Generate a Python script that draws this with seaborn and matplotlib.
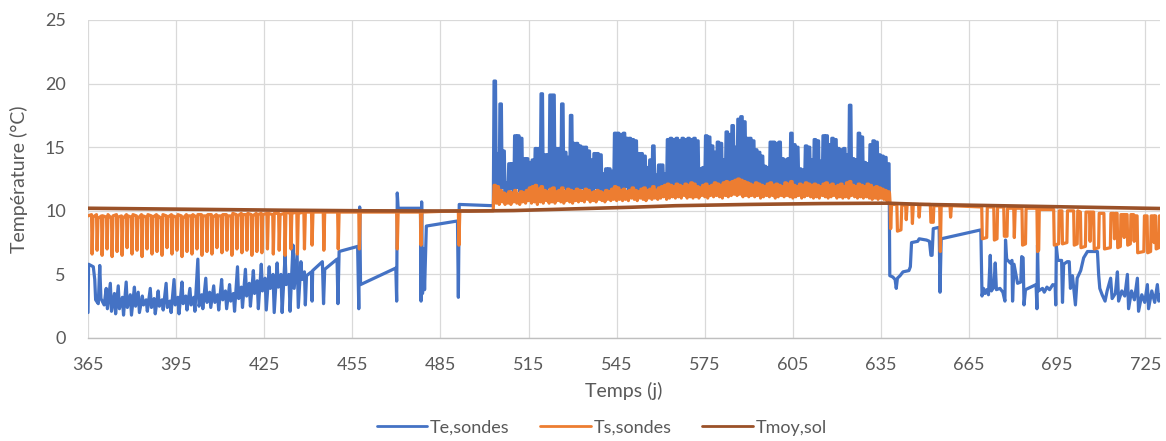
import numpy as np
import pandas as pd
import seaborn as sns
import matplotlib.pyplot as plt

# ---- data (day, temperature in degC) ----

# Te,sondes - winter part (365 -> 503)
te_hiver = [
    (365.0, 2.0), (365.2, 5.8), (366.8, 5.6), (367.3, 4.6), (367.6, 3.0), (368.5, 2.7),
    (369.0, 5.7), (369.4, 3.1), (370.5, 2.6), (371.2, 3.9), (371.6, 2.3), (372.6, 4.3),
    (373.0, 2.1), (374.0, 3.5), (374.4, 1.9), (375.3, 4.1), (375.7, 2.3), (376.7, 3.2),
    (377.1, 1.8), (378.0, 4.4), (378.4, 2.4), (379.4, 3.4), (379.8, 1.8), (380.8, 4.0),
    (381.2, 2.5), (382.1, 3.6), (382.5, 2.0), (383.5, 3.3), (383.9, 2.6), (384.8, 3.0),
    (385.2, 2.1), (386.2, 3.9), (386.6, 2.4), (387.5, 3.1), (387.9, 1.9), (388.9, 3.7),
    (389.3, 2.5), (390.2, 3.0), (390.6, 2.2), (391.6, 4.3), (392.0, 2.4), (392.9, 2.9),
    (393.3, 2.0), (394.3, 4.6), (394.7, 2.6), (395.6, 3.2), (396.0, 1.9), (397.0, 4.4),
    (397.4, 2.7), (398.3, 3.3), (398.7, 2.2), (399.7, 3.9), (400.1, 2.6), (401.0, 3.2),
    (401.4, 2.1), (402.4, 6.2), (402.8, 2.5), (403.7, 3.4), (404.1, 2.3), (405.1, 4.7),
    (405.5, 2.8), (406.4, 3.6), (406.8, 2.4), (407.8, 4.1), (408.2, 2.8), (409.1, 3.4),
    (409.5, 2.2), (410.5, 4.6), (410.9, 3.0), (411.8, 3.7), (412.2, 2.3), (413.2, 4.2),
    (413.6, 2.9), (414.5, 3.5), (414.9, 2.1), (415.9, 5.6), (416.3, 3.1), (417.2, 4.0),
    (417.6, 2.4), (418.6, 5.4), (419.0, 3.3), (419.9, 4.3), (420.3, 2.5), (421.3, 5.3),
    (421.7, 3.5), (422.6, 4.5), (423.0, 2.3), (424.0, 5.8), (424.4, 3.7), (425.3, 4.7),
    (425.7, 2.2), (426.7, 5.6), (427.1, 3.9), (428.0, 5.0), (428.4, 2.0), (429.4, 5.9),
    (429.8, 4.0), (430.7, 5.0), (431.1, 2.0), (432.1, 6.5), (432.5, 4.2), (433.4, 5.0),
    (433.8, 2.1), (434.8, 7.3), (435.2, 3.9), (436.2, 6.6), (436.6, 2.4), (437.5, 6.0),
    (437.9, 4.6), (438.7, 5.2), (439.0, 2.6), (439.4, 4.9), (441.1, 5.2), (441.3, 2.9),
    (441.5, 5.3), (444.8, 6.0), (445.2, 2.7), (445.6, 5.4), (449.8, 6.2), (450.1, 2.7),
    (450.5, 6.8), (456.8, 7.2), (457.2, 2.3), (457.5, 10.3), (457.8, 4.2), (469.8, 5.5),
    (470.1, 2.9), (470.3, 11.4), (470.6, 10.2), (478.2, 10.2), (478.4, 2.9), (478.6, 10.7),
    (478.9, 3.5), (479.3, 7.0), (479.6, 3.8), (480.2, 8.8), (490.8, 9.2), (491.1, 3.2),
    (491.4, 10.5), (503.0, 10.4),
]

# Te,sondes - summer part, daily min / max (days 503 -> 637)
ete_debut = 503
te_ete_max = [
    20.2, 14.5, 18.4, 14.7, 12.2, 13.7, 13.7, 15.9, 15.9, 15.7,
    14.1, 14.1, 13.8, 14.0, 14.9, 14.9, 19.2, 14.4, 14.4, 19.1,
    19.1, 14.9, 14.9, 18.4, 14.6, 14.2, 17.5, 15.3, 15.3, 15.1,
    15.0, 15.0, 14.7, 14.0, 14.5, 14.5, 14.4, 12.9, 13.3, 13.3,
    13.1, 16.1, 16.1, 16.0, 16.1, 15.7, 15.7, 15.6, 15.5, 14.5,
    14.5, 14.3, 13.4, 14.0, 15.1, 12.8, 13.6, 13.6, 12.9, 15.6,
    15.7, 15.6, 15.7, 15.5, 15.7, 15.6, 15.7, 15.6, 15.7, 15.5,
    13.3, 13.4, 15.9, 15.8, 15.1, 14.6, 15.4, 15.3, 14.0, 16.2,
    16.0, 16.7, 15.0, 17.2, 17.4, 17.0, 15.7, 15.7, 15.5, 14.8,
    14.6, 14.3, 13.5, 13.4, 15.4, 15.4, 15.3, 15.4, 14.1, 14.0,
    14.1, 16.1, 15.2, 15.0, 13.3, 13.2, 15.1, 15.0, 14.0, 15.6,
    15.5, 13.9, 15.9, 15.9, 15.2, 15.7, 15.6, 14.9, 14.8, 14.9,
    14.4, 18.3, 14.1, 14.0, 16.1, 15.8, 13.8, 13.7, 15.2, 15.5,
    15.4, 14.4, 14.3, 14.2, 13.7,
]
te_ete_min = [
    10.4, 11.6, 11.3, 11.8, 11.1, 11.5, 11.7, 11.4, 11.8, 11.5,
    11.6, 11.3, 11.7, 11.5, 11.8, 11.4, 11.6, 11.7, 11.3, 11.8,
    11.5, 11.7, 11.4, 11.6, 11.8, 11.5, 11.3, 11.7, 11.6, 11.4,
    11.8, 11.5, 11.7, 11.4, 11.6, 11.8, 11.5, 11.3, 11.7, 11.6,
    11.5, 11.8, 11.6, 11.4, 11.7, 11.9, 11.6, 11.5, 11.8, 11.6,
    11.4, 11.7, 11.6, 11.8, 11.5, 11.7, 11.9, 11.6, 11.8, 11.7,
    11.9, 11.7, 11.8, 12.0, 11.7, 11.9, 11.8, 12.0, 11.7, 11.9,
    11.8, 12.0, 11.9, 11.7, 12.0, 11.8, 12.1, 11.9, 11.8, 12.0,
    12.1, 11.9, 12.2, 12.0, 12.1, 11.9, 12.0, 11.8, 12.1, 11.9,
    12.0, 11.8, 12.1, 11.9, 12.0, 12.1, 11.8, 12.0, 11.9, 12.1,
    11.8, 12.0, 11.9, 11.7, 12.0, 11.8, 12.1, 11.9, 11.8, 12.0,
    11.9, 11.7, 12.0, 11.8, 11.9, 12.1, 11.8, 12.0, 11.9, 11.7,
    12.0, 11.8, 11.9, 11.7, 12.0, 11.8, 11.9, 11.7, 12.0, 11.8,
    11.9, 11.7, 11.8, 11.6, 11.5,
]

# Te,sondes - autumn part (638 -> 730)
te_automne = [
    (638.0, 4.9), (639.0, 4.8), (639.8, 4.6), (640.2, 3.9), (640.6, 4.7), (641.5, 4.9),
    (642.5, 5.2), (644.5, 5.3), (645.0, 5.6), (645.4, 7.5), (647.5, 7.6), (648.0, 7.8),
    (650.5, 7.7), (651.5, 7.6), (652.0, 6.5), (652.4, 6.5), (652.8, 8.6), (654.8, 8.7),
    (655.1, 3.6), (655.5, 7.8), (669.0, 8.5), (669.4, 3.3), (669.9, 3.9), (670.4, 3.5),
    (671.0, 3.8), (671.6, 3.4), (672.2, 6.5), (672.6, 3.7), (673.4, 4.0), (673.9, 5.9),
    (674.3, 3.8), (675.5, 3.9), (676.5, 3.6), (677.2, 2.9), (677.4, 7.7), (677.8, 6.2),
    (679.0, 5.9), (679.6, 6.1), (679.8, 2.9), (680.3, 5.8), (681.5, 4.3), (682.6, 4.4),
    (682.9, 6.4), (683.4, 6.3), (683.7, 2.6), (684.2, 3.8), (686.0, 4.0), (687.8, 4.2),
    (688.1, 2.3), (688.3, 7.3), (688.6, 3.7), (690.0, 3.9), (690.6, 3.6), (691.5, 4.0),
    (692.4, 3.8), (693.5, 4.2), (694.3, 4.1), (694.5, 2.6), (694.7, 7.2), (695.2, 6.1),
    (696.5, 6.1), (696.8, 2.8), (697.2, 5.8), (698.4, 6.0), (699.1, 6.0), (699.5, 3.9),
    (700.2, 4.9), (701.2, 2.6), (701.8, 4.7), (703.0, 5.3), (704.0, 6.3), (705.3, 6.8),
    (708.7, 6.8), (709.1, 5.0), (709.5, 3.9), (710.3, 3.4), (711.3, 2.9), (712.0, 3.7),
    (713.2, 4.7), (713.7, 3.1), (714.8, 3.5), (715.5, 5.2), (715.9, 2.9), (717.0, 3.7),
    (718.0, 3.3), (718.9, 5.0), (719.3, 2.3), (720.3, 3.7), (721.3, 3.0), (722.3, 4.7),
    (722.7, 2.1), (723.8, 3.4), (724.8, 2.8), (725.7, 4.2), (726.1, 2.3), (727.2, 3.7),
    (728.2, 2.8), (729.1, 4.2), (729.6, 2.9), (730.0, 3.4),
]

# Ts,sondes - winter part
ts_hiver = [
    (365.0, 9.6), (366.2, 9.7), (366.4, 6.6), (366.7, 9.5), (367.9, 9.7), (368.1, 6.9),
    (368.4, 9.4), (369.6, 9.6), (369.8, 6.5), (370.1, 9.6), (371.3, 9.5), (371.5, 7.0),
    (371.8, 9.7), (373.0, 9.4), (373.2, 6.4), (373.5, 9.6), (374.7, 9.7), (374.9, 6.8),
    (375.2, 9.5), (376.4, 9.6), (376.6, 6.5), (376.9, 9.4), (378.1, 9.7), (378.3, 7.1),
    (378.6, 9.6), (379.8, 9.5), (380.0, 6.6), (380.3, 9.7), (381.5, 9.6), (381.7, 6.9),
    (382.0, 9.4), (383.2, 9.7), (383.4, 6.4), (383.7, 9.6), (384.9, 9.5), (385.1, 7.0),
    (385.4, 9.7), (386.6, 9.6), (386.8, 6.6), (387.1, 9.5), (388.3, 9.7), (388.5, 6.8),
    (388.8, 9.6), (390.0, 9.4), (390.2, 6.5), (390.5, 9.7), (391.7, 9.6), (391.9, 7.1),
    (392.2, 9.5), (393.4, 9.7), (393.6, 6.6), (393.9, 9.6), (395.1, 9.5), (395.3, 6.9),
    (395.6, 9.7), (396.8, 9.6), (397.0, 6.4), (397.3, 9.4), (398.5, 9.7), (398.7, 6.8),
    (399.0, 9.6), (400.2, 9.6), (400.4, 6.6), (400.7, 9.7), (401.9, 9.5), (402.1, 7.0),
    (402.4, 9.7), (403.6, 9.7), (403.8, 6.5), (404.1, 9.6), (405.3, 9.6), (405.5, 6.8),
    (405.8, 9.7), (407.0, 9.7), (407.2, 6.6), (407.5, 9.5), (408.7, 9.7), (408.9, 7.1),
    (409.2, 9.6), (410.4, 9.6), (410.6, 6.7), (410.9, 9.7), (412.1, 9.7), (412.3, 6.9),
    (412.6, 9.6), (413.8, 9.6), (414.0, 6.5), (414.3, 9.8), (415.5, 9.7), (415.7, 7.0),
    (416.0, 9.6), (417.2, 9.8), (417.4, 6.7), (417.7, 9.7), (418.9, 9.7), (419.1, 6.9),
    (419.4, 9.8), (420.6, 9.7), (420.8, 6.5), (421.1, 9.6), (422.3, 9.8), (422.5, 6.8),
    (422.8, 9.7), (424.0, 9.8), (424.2, 6.7), (424.5, 9.7), (425.9, 9.8), (426.1, 7.0),
    (426.4, 9.8), (427.9, 9.7), (428.1, 6.6), (428.4, 9.8), (429.9, 9.8), (430.1, 6.9),
    (430.4, 9.7), (431.9, 9.8), (432.1, 6.5), (432.4, 9.9), (433.9, 9.8), (434.1, 7.0),
    (434.4, 9.8), (436.1, 9.9), (436.3, 6.6), (436.6, 9.8), (438.5, 9.9), (438.7, 7.0),
    (439.0, 9.9), (441.1, 9.9), (441.3, 7.3), (441.6, 9.9), (445.1, 9.9), (445.3, 6.9),
    (445.6, 9.9), (450.0, 9.9), (450.2, 7.0), (450.5, 9.9), (457.2, 9.9), (457.4, 7.0),
    (457.7, 9.9), (470.1, 9.9), (470.3, 7.0), (470.6, 9.9), (478.2, 9.9), (478.4, 7.3),
    (478.7, 9.9), (491.1, 10.0), (491.3, 7.3), (491.6, 10.0), (503.0, 10.0),
]

# Ts,sondes - summer part, daily min / max (days 503 -> 637)
ts_ete_max = [
    12.0, 11.9, 11.6, 11.4, 11.3, 11.5, 11.4, 11.6, 11.3, 11.5,
    11.4, 11.6, 11.8, 11.9, 12.0, 11.7, 11.9, 11.6, 11.5, 11.7,
    11.8, 11.5, 11.6, 11.8, 11.5, 11.7, 11.6, 11.5, 11.7, 11.6,
    11.5, 11.7, 11.6, 11.4, 11.5, 11.6, 11.5, 11.4, 11.6, 11.5,
    11.7, 11.9, 11.8, 11.6, 11.7, 11.5, 11.6, 11.8, 11.6, 11.5,
    11.7, 11.8, 11.6, 11.7, 11.9, 11.6, 11.8, 11.9, 12.0, 12.1,
    12.0, 11.9, 12.1, 12.0, 11.9, 12.1, 12.0, 12.2, 12.1, 11.9,
    11.8, 12.0, 12.1, 11.9, 12.0, 12.2, 12.1, 12.0, 12.2, 12.3,
    12.2, 12.3, 12.4, 12.5, 12.4, 12.3, 12.2, 12.1, 12.0, 12.2,
    12.1, 12.0, 11.9, 12.1, 12.2, 12.0, 12.1, 12.0, 11.9, 12.2,
    12.1, 12.3, 12.0, 11.9, 12.1, 12.0, 12.2, 12.1, 12.0, 12.1,
    12.0, 11.9, 12.1, 12.2, 12.0, 12.1, 11.9, 12.0, 12.1, 11.9,
    12.2, 12.3, 12.0, 11.9, 12.1, 12.0, 11.9, 12.1, 12.0, 11.8,
    11.9, 11.8, 11.7, 11.6, 11.5,
]
ts_ete_min = [
    10.2, 10.6, 10.5, 10.7, 10.5, 10.6, 10.5, 10.7, 10.6, 10.5,
    10.7, 10.6, 10.8, 10.6, 10.7, 10.5, 10.7, 10.6, 10.8, 10.6,
    10.7, 10.6, 10.8, 10.7, 10.6, 10.8, 10.7, 10.6, 10.8, 10.7,
    10.8, 10.7, 10.9, 10.7, 10.8, 10.7, 10.9, 10.8, 10.7, 10.9,
    10.8, 10.9, 10.8, 10.9, 10.8, 10.9, 10.8, 11.0, 10.9, 10.8,
    11.0, 10.9, 10.8, 11.0, 10.9, 11.0, 10.9, 11.0, 11.1, 10.9,
    11.0, 11.1, 11.0, 11.1, 11.0, 11.2, 11.0, 11.1, 11.0, 11.1,
    11.0, 11.2, 11.1, 11.0, 11.2, 11.1, 11.2, 11.1, 11.0, 11.2,
    11.1, 11.2, 11.3, 11.2, 11.3, 11.1, 11.2, 11.1, 11.2, 11.1,
    11.2, 11.0, 11.1, 11.2, 11.1, 11.2, 11.0, 11.1, 11.2, 11.1,
    11.2, 11.1, 11.0, 11.1, 11.2, 11.0, 11.1, 11.2, 11.1, 11.0,
    11.1, 11.0, 11.2, 11.1, 11.0, 11.1, 11.2, 11.0, 11.1, 11.0,
    11.1, 11.0, 11.2, 11.1, 11.0, 11.1, 11.0, 11.1, 11.0, 10.9,
    11.0, 10.9, 11.0, 10.9, 10.8,
]

# Ts,sondes - autumn part
ts_automne = [
    (637.9, 11.4), (638.1, 10.6), (638.3, 8.6), (638.6, 10.5), (640.4, 10.5), (640.6, 8.4),
    (641.8, 8.5), (642.1, 10.5), (643.4, 10.4), (643.6, 9.3), (643.9, 10.5), (645.5, 10.5),
    (645.7, 9.0), (646.0, 10.5), (647.8, 10.5), (648.0, 9.5), (648.3, 10.5), (651.8, 10.5),
    (652.0, 9.1), (652.8, 9.1), (653.0, 10.4), (655.0, 10.4), (655.2, 6.8), (655.5, 10.4),
    (658.5, 10.4), (658.7, 9.5), (659.0, 10.4), (669.3, 10.3), (669.5, 7.8), (671.0, 7.9),
    (671.2, 10.3), (673.4, 10.3), (673.6, 7.7), (674.5, 7.8), (674.7, 10.3), (676.8, 10.3),
    (677.0, 8.0), (677.9, 8.0), (678.1, 10.2), (680.2, 10.2), (680.4, 7.9), (680.7, 10.2),
    (683.0, 10.2), (683.2, 7.3), (684.2, 7.4), (684.4, 10.2), (688.1, 10.2), (688.3, 6.8),
    (688.7, 6.9), (688.9, 10.1), (693.8, 10.1), (694.0, 7.3), (695.5, 7.4), (695.7, 10.0),
    (696.6, 10.0), (696.8, 7.4), (698.3, 7.5), (698.5, 10.0), (700.6, 10.0), (700.8, 7.3),
    (701.8, 7.4), (702.0, 10.0), (702.9, 9.9), (703.1, 7.1), (704.6, 7.2), (704.8, 9.9),
    (706.0, 9.9), (706.2, 7.6), (706.5, 9.9), (707.4, 9.9), (707.6, 7.0), (709.1, 7.1),
    (709.3, 9.8), (710.9, 9.8), (711.1, 7.0), (713.1, 7.1), (713.3, 9.8), (714.3, 9.8),
    (714.5, 7.8), (714.8, 9.8), (715.4, 9.8), (715.6, 7.1), (716.5, 7.2), (716.7, 9.7),
    (717.6, 9.7), (717.8, 7.9), (718.1, 9.7), (718.8, 9.7), (719.0, 7.3), (719.9, 7.4),
    (720.1, 9.7), (721.0, 9.7), (721.2, 7.6), (721.5, 9.6), (722.2, 9.6), (722.4, 6.7),
    (724.5, 6.8), (724.7, 9.6), (725.6, 9.6), (725.8, 6.7), (726.8, 6.8), (727.0, 9.6),
    (727.8, 9.6), (728.0, 7.5), (728.3, 9.6), (728.5, 9.6), (728.7, 7.0), (729.6, 7.1),
    (729.8, 9.6), (730.0, 9.6),
]

# Tmoy,sol
tmoy_sol = [
    (365, 10.2), (400, 10.12), (430, 10.05), (460, 10.0), (495, 9.98), (510, 10.02),
    (530, 10.15), (550, 10.28), (565, 10.4), (590, 10.5), (615, 10.57), (637, 10.6),
    (650, 10.5), (680, 10.38), (705, 10.28), (730, 10.18),
]

series = ['Te,sondes', 'Ts,sondes', 'Tmoy,sol']
couleurs = ['#4472C4', '#ED7D31', '#9A5128']
epaisseurs = [2.3, 2.3, 2.6]


def ete(debut, vmin, vmax):
    # each day drawn as min -> max plateau -> next day's min
    pts = []
    for i, (lo, hi) in enumerate(zip(vmin, vmax)):
        j = debut + i
        pts += [(j, lo), (j + 0.25, hi), (j + 0.75, hi)]
    return pts


te = te_hiver + ete(ete_debut, te_ete_min, te_ete_max) + te_automne
ts = ts_hiver + ete(ete_debut, ts_ete_min, ts_ete_max) + ts_automne

frames = []
for nom, pts in zip(series, [te, ts, tmoy_sol]):
    x, y = zip(*pts)
    frames.append(pd.DataFrame({'Temps': x, 'T': y, 'serie': nom}))
df = pd.concat(frames, ignore_index=True)

sns.set_style('white')
plt.rcParams['font.family'] = ['Lato', 'DejaVu Sans']
plt.rcParams['path.simplify'] = False

fig = plt.figure(figsize=(11.66, 4.41), dpi=100)
ax = fig.add_axes([88 / 1166, 1 - 338 / 441, (1160 - 88) / 1166, (338 - 20) / 441])

sns.lineplot(
    data=df, x='Temps', y='T', hue='serie', hue_order=series,
    palette=couleurs, sort=False, estimator=None, legend=False, ax=ax
)
for line, lw in zip(ax.lines, epaisseurs):
    line.set_linewidth(lw)

gris = '#595959'
ax.set_xlim(365, 730)
ax.set_ylim(0, 25)
ax.set_xticks(range(365, 726, 30))
ax.set_yticks(range(0, 26, 5))
ax.grid(True, color='#D9D9D9', lw=0.9)
ax.set_axisbelow(True)
for s in ['left', 'top', 'right']:
    ax.spines[s].set_visible(False)
ax.spines['bottom'].set_color('#BFBFBF')
ax.spines['bottom'].set_linewidth(1.0)
ax.tick_params(length=0, labelsize=13, labelcolor=gris)
ax.tick_params(axis='x', pad=14)
ax.tick_params(axis='y', pad=16)

ax.set_xlabel('Temps (j)', fontsize=14, color=gris, labelpad=6)
ax.set_ylabel('Température (°C)', fontsize=14, color=gris, labelpad=12)

leg = fig.legend(
    ax.lines, series, loc='center', bbox_to_anchor=(0.516, 0.03),
    ncol=3, frameon=False, fontsize=13, labelcolor=gris,
    handlelength=2.8, columnspacing=1.7, handletextpad=0.15
)
for h in leg.legend_handles:
    h.set_linewidth(2.0)

fig.savefig('out.png', dpi=100)
